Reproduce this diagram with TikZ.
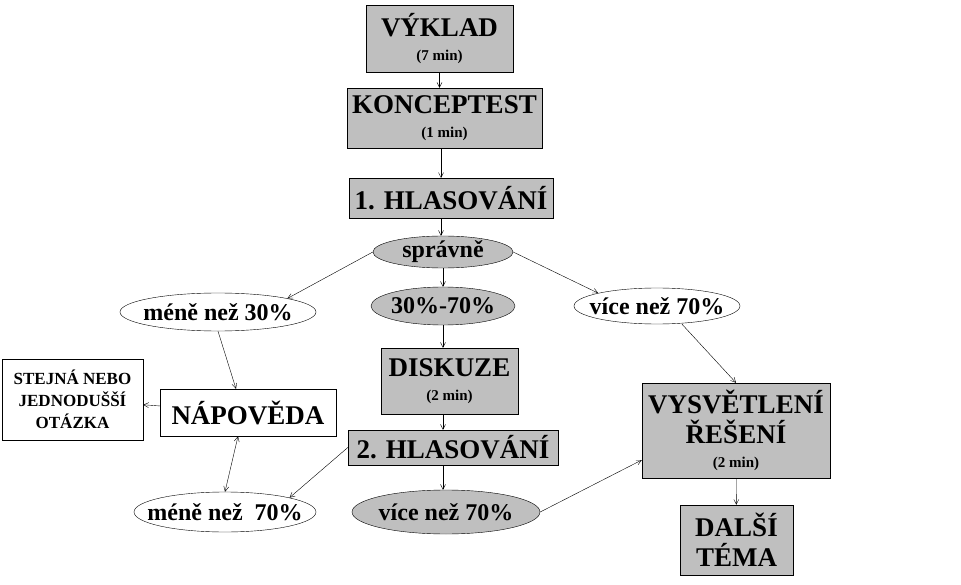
\documentclass[tikz,border=0pt]{standalone}
\usepackage{fontspec}
\setmainfont{Liberation Serif}
\usetikzlibrary{arrows.meta,shapes.geometric}
\begin{document}
\begin{tikzpicture}[x=1pt,y=-1pt,
 gbox/.style={draw,fill=gray!50,align=center,inner sep=0pt,font=\bfseries},
 wbox/.style={draw,fill=white,align=center,inner sep=0pt,font=\bfseries},
 gell/.style={draw,ellipse,fill=gray!50,inner sep=0pt},
 well/.style={draw,ellipse,fill=white,inner sep=0pt},
 etxt/.style={inner sep=0pt,font=\bfseries\fontsize{24}{26}\selectfont},
 big/.style={font=\bfseries\fontsize{27}{28}\selectfont},
 arr/.style={-{Straight Barb[length=5pt,width=5pt]},thin}]
\useasboundingbox (0,0) rectangle (961,585);
\newcommand{\sm}[1]{\\[-4pt]{\fontsize{15}{15}\selectfont #1}}
\node[gbox,minimum width=147,minimum height=67,big] (vyk) at (439.5,38.5) {VÝKLAD\sm{(7 min)}};
\node[gbox,minimum width=195,minimum height=60,big] (kon) at (444.5,118) {KONCEPTEST\sm{(1 min)}};
\node[gbox,minimum width=204,minimum height=40,big] (h1) at (451,198) {1. HLASOVÁNÍ};
\node[gell,minimum width=140,minimum height=32] (spr) at (443,252) {};
\node[etxt] at (spr) {správně};
\node[well,minimum width=196,minimum height=38] (m30) at (218,312) {};
\node[etxt] at (m30) {méně než 30\%};
\node[gell,minimum width=144,minimum height=38] (s37) at (443,306) {};
\node[etxt] at (s37) {30\%-70\%};
\node[well,minimum width=166,minimum height=36] (v70a) at (657,306) {};
\node[etxt] at (v70a) {více než 70\%};
\node[gbox,minimum width=137,minimum height=66,big] (dis) at (449.5,381) {DISKUZE\sm{(2 min)}};
\node[wbox,minimum width=176,minimum height=47,big] (nap) at (248,412.5) {NÁPOVĚDA};
\node[wbox,minimum width=141,minimum height=81,font=\bfseries\fontsize{17}{22}\selectfont] (ste) at (72.5,399.5) {STEJNÁ NEBO\\JEDNODUŠŠÍ\\OTÁZKA};
\node[gbox,minimum width=210,minimum height=35,big] (h2) at (453,447.5) {2. HLASOVÁNÍ};
\node[gbox,minimum width=188,minimum height=95,big] (vys) at (736,430.5) {VYSVĚTLENÍ\\[2pt]ŘEŠENÍ\sm{(2 min)}};
\node[well,minimum width=182,minimum height=40] (m70) at (225,512) {};
\node[etxt] at (m70) {méně než~ 70\%};
\node[gell,minimum width=188,minimum height=44] (v70b) at (446,512) {};
\node[etxt] at (v70b) {více než 70\%};
\node[gbox,minimum width=113,minimum height=70,big] (dal) at (736.5,540) {DALŠÍ\\[2pt]TÉMA};
\draw[arr] (vyk) -- (vyk|-kon.north);
\draw[arr] (kon.south-|441,0) -- (441,178);
\draw[arr] (h1.south-|441,0) -- (spr.north-|441,0);
\draw[arr] (spr.west) -- (m30.north east);
\draw[arr] (spr) -- (s37);
\draw[arr] (spr.east) -- (v70a.north west);
\draw[arr] (m30.south) -- (nap.north-|236,0);
\draw[arr] (s37.south-|443,0) -- (dis.north-|443,0);
\draw[arr] (dis.south-|443,0) -- (h2.north-|443,0);
\draw[arr] (nap) -- (ste);
\draw[arr] (h2.west) -- (m70.north east);
\draw[{Straight Barb[length=5pt,width=5pt]}-{Straight Barb[length=5pt,width=5pt]},thin] (m70.north) -- (nap.south-|238,0);
\draw[arr] (h2.south-|443,0) -- (v70b.north-|443,0);
\draw[arr] (v70b.east) -- (vys.south west|-0,460);
\draw[arr] (v70a.south) ++(25,0) -- (vys.north);
\draw[arr] (vys) -- (dal);
\end{tikzpicture}
\end{document}
